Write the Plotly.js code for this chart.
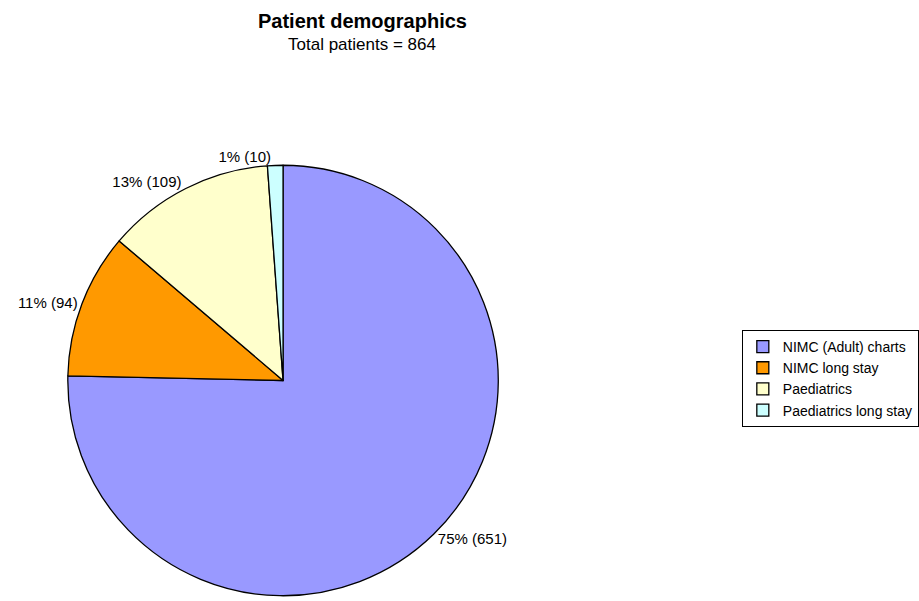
<!DOCTYPE html>
<html>
<head>
<meta charset="utf-8">
<script src="https://cdn.plot.ly/plotly-3.0.1.min.js"></script>
<style>
  html, body { margin: 0; padding: 0; background: #ffffff; }
  #chart { width: 919px; height: 601px; }
</style>
</head>
<body>
<div id="chart"></div>
<script>
// Patient groups and head counts
const groups = ['NIMC (Adult) charts', 'NIMC long stay', 'Paediatrics', 'Paediatrics long stay'];
const patients = [651, 94, 109, 10];
const sliceColors = ['#9999FF', '#FF9900', '#FFFFCC', '#CCFFFF'];
const chartTitle = 'Patient demographics';

const total = patients.reduce((a, b) => a + b, 0);
const FONT = 'Liberation Sans, Arial, sans-serif';

const trace = {
  type: 'pie',
  labels: groups,
  values: patients,
  sort: false,
  direction: 'clockwise',
  rotation: 0,
  marker: { colors: sliceColors, line: { color: '#000000', width: 1.3 } },
  textposition: 'outside',
  texttemplate: '%{percent:.0%} (%{value})',
  textfont: { family: FONT, size: 15, color: '#000000' },
  hoverinfo: 'label+value+percent',
  domain: { x: [0.0756, 0.5555], y: [0, 0.7338] }
};

const layout = {
  width: 919,
  height: 601,
  margin: { l: 0, r: 0, t: 0, b: 0 },
  paper_bgcolor: '#ffffff',
  plot_bgcolor: '#ffffff',
  font: { family: FONT, color: '#000000' },
  annotations: [
    {
      text: '<b>' + chartTitle + '</b>',
      xref: 'paper', yref: 'paper',
      x: 0.4037, y: 1 - 21 / 601,
      xanchor: 'center', yanchor: 'middle',
      showarrow: false,
      font: { family: FONT, size: 20, color: '#000000' }
    },
    {
      text: 'Total patients = ' + total,
      xref: 'paper', yref: 'paper',
      x: 0.4037, y: 1 - 44 / 601,
      xanchor: 'center', yanchor: 'middle',
      showarrow: false,
      font: { family: FONT, size: 17, color: '#000000' }
    }
  ],
  showlegend: true,
  legend: {
    x: 0.827,
    y: 0.451,
    xanchor: 'left',
    yanchor: 'top',
    bgcolor: '#ffffff',
    bordercolor: '#000000',
    borderwidth: 1,
    itemwidth: 30,
    font: { family: FONT, size: 14, color: '#000000' }
  }
};

Plotly.newPlot('chart', [trace], layout, { displayModeBar: false, staticPlot: true });
</script>
</body>
</html>
